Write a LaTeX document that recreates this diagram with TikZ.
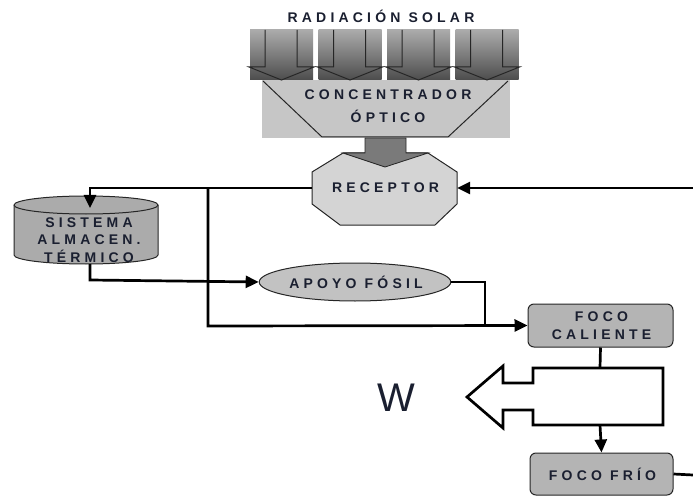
\documentclass[tikz,border=0pt]{standalone}
\usepackage{fontspec}
\setmainfont{Liberation Sans}
\newfontfamily\lblfont{Liberation Sans}[LetterSpace=30]
\usetikzlibrary{shapes.geometric,arrows.meta}
\definecolor{txtc}{HTML}{1A1F30}
\definecolor{concg}{HTML}{C6C6C6}
\definecolor{recg}{HTML}{D4D4D4}
\definecolor{storg}{HTML}{ABABAB}
\definecolor{apog}{HTML}{C2C2C2}
\definecolor{focog}{HTML}{B4B4B4}
\definecolor{shaftg}{HTML}{7A7A7A}
\begin{document}
\begin{tikzpicture}[x=1pt,y=-1pt,
  lbl/.style={font=\lblfont\bfseries\fontsize{14}{17}\selectfont, text=txtc, align=center, inner sep=0pt},
  conn/.style={line width=2.7pt, draw=black},
  arr/.style={conn,-{Triangle[length=13pt,width=12pt]}},
  outl/.style={draw=black!85, line width=1pt},
  boxs/.style={outl, rounded corners=6pt, fill=focog, lbl},
  colarrow/.style={draw=black!85, line width=1pt}
]
\useasboundingbox (0,0) rectangle (693,497);
% title
\node[lbl] (title) at (380,16) {\hspace*{2pt}RADIACIÓN SOLAR};
% concentrator
\fill[concg] (262,80) rectangle (510,138);
\draw[outl] (263,81) -- (322,137) -- (448,137) -- (508,81);
\node[lbl, font=\lblfont\bfseries\fontsize{14}{23}\selectfont] (conc) at (388,106) {CONCENTRADOR\\ÓPTICO};
% incoming radiation columns
\foreach \l in {250,318.5,387,455.5}{
  \shade[top color=black!33, bottom color=black!70] (\l,30) rectangle (\l+63,80);
  \draw[colarrow] (\l+15,30) -- (\l+15,67) -- (\l-1,67) -- (\l+31.5,80) -- (\l+64,67) -- (\l+47,67) -- (\l+47,30);
}
% receptor
\draw[outl, fill=recg] (343,153) -- (428,153) -- (457,172) -- (457,204) -- (435,225) -- (340,225) -- (312,204) -- (312,172) -- cycle;
\draw[outl, line width=0.8pt, fill=shaftg] (365,138) -- (406,138) -- (406,153) -- (428,153) -- (385,167) -- (343,153) -- (365,153) -- cycle;
\node[lbl, minimum width=145pt, minimum height=72pt] (rec) at (384.5,188) {\hspace*{2pt}RECEPTOR};
% storage
\fill[storg] (14,205) -- (14,255) arc[start angle=180,end angle=360,x radius=72pt,y radius=9pt] -- (158,205) arc[start angle=0,end angle=180,x radius=72pt,y radius=9pt] -- cycle;
\draw[outl] (14,205) -- (14,255) arc[start angle=180,end angle=360,x radius=72pt,y radius=9pt] -- (158,205) arc[start angle=0,end angle=180,x radius=72pt,y radius=9pt];
\draw[outl] (158,205) arc[start angle=0,end angle=-180,x radius=72pt,y radius=9pt];
\node[lbl, font=\lblfont\bfseries\fontsize{14}{17.5}\selectfont] (stor) at (89,240) {SISTEMA\\ALMACEN.\\TÉRMICO};
\coordinate (storin) at (90,208);
\coordinate (storout) at (90,264);
% apoyo fosil
\node[lbl, outl, ellipse, fill=apog, minimum width=166pt, minimum height=38pt] (apo) at (355,282) {\hspace*{2pt}APOYO FÓSIL};
% focos
\node[boxs, minimum width=145pt, minimum height=43pt, font=\lblfont\bfseries\fontsize{14}{18}\selectfont] (fc) at (600.5,325.5) {\hspace*{2pt}FOCO\\\hspace*{2pt}CALIENTE};
\node[boxs, minimum width=143pt, minimum height=42pt] (ff) at (601.5,474) {\hspace*{2pt}FOCO FRÍO};
% work arrow
\draw[conn, fill=white] (663,368) -- (533,368) -- (533,383) -- (503,383) -- (503,366) -- (467,397) -- (503,428) -- (503,410) -- (533,410) -- (533,425) -- (663,425) -- cycle;
\coordinate (wtop) at (600,368);
\coordinate (wbot) at (600,425);
\node[font=\fontsize{40}{40}\selectfont, text=txtc] (w) at (396,398) {W};
% connectors
\coordinate (rin) at (693,188);
\coordinate (c1) at (90,188);
\coordinate (br) at (208,188);
\coordinate (br2) at (208,326);
\coordinate (s1) at (90,280);
\coordinate (a1) at (485,282);
\coordinate (a2) at (485,326);
\coordinate (fout) at (693,475);
\draw[arr] (rin) -- (rec.east);
\draw[arr] (rec.west) -- (c1) -- (storin);
\draw[arr] (br) -- (br2) -- (fc.west);
\draw[arr] (storout) -- (s1) -- (apo.west);
\draw[conn] (apo.east) -- (a1) -- (a2);
\draw[conn] (fc.south) -- (wtop);
\draw[arr] (wbot) -- (ff.north);
\draw[conn] (ff.east) -- (fout);
\end{tikzpicture}
\end{document}
